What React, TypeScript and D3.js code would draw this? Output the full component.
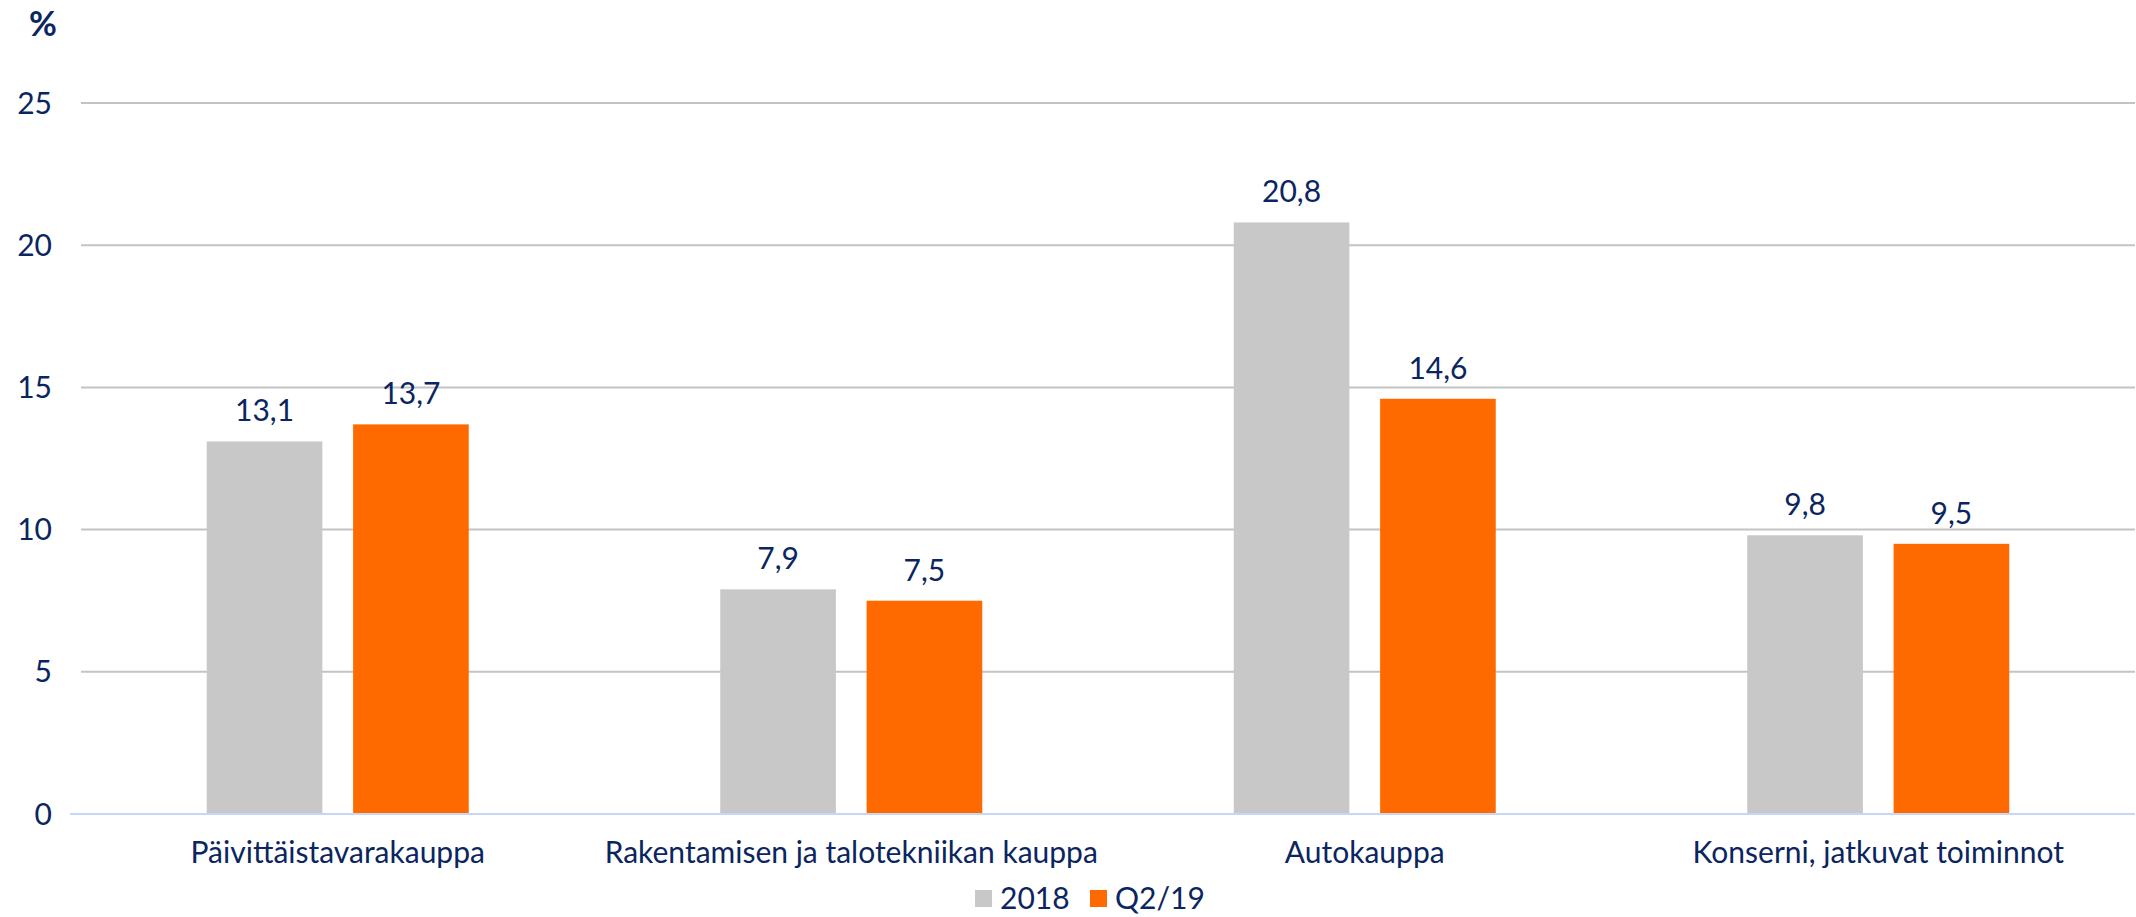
import React from 'react';
import * as d3 from 'd3';

const categories = ['Päivittäistavarakauppa', 'Rakentamisen ja talotekniikan kauppa', 'Autokauppa', 'Konserni, jatkuvat toiminnot'];
const series = ['2018', 'Q2/19'];
const values2018 = [13.1, 7.9, 20.8, 9.8];
const valuesQ2 = [13.7, 7.5, 14.6, 9.5];
const yTicks = [0, 5, 10, 15, 20, 25];

const W = 2136;
const H = 917;
const navy = '#0b2560';
const colors = ['#c8c8c8', '#ff6a00'];
const font = 'Lato, "Open Sans", sans-serif';

const App = () => {
    const left = 81;
    const right = 2135;
    const y = d3.scaleLinear().domain([0, 25]).range([814, 103]);
    const x = d3.scaleBand().domain(categories).range([left, right]);
    const inner = d3.scaleBand().domain(series).range([-131, 131]).paddingInner(0.21);
    const fmt = (v: number) => d3.format('.1f')(v).replace('.', ',');
    const data = [values2018, valuesQ2];

    return (
        <svg width={W} height={H} style={{ position: 'absolute', left: 0, top: 0, background: '#fff' }}>
            <text x={29} y={36} fill={navy} fontFamily={font} fontWeight={700} fontSize={34}>%</text>
            {yTicks.map(t => (
                <g key={t}>
                    {t > 0 && <line x1={left} x2={right} y1={y(t)} y2={y(t)} stroke="#c3c3c3" strokeWidth={2} />}
                    <text x={52} y={y(t)} dy="0.35em" textAnchor="end" fill={navy} fontFamily={font} fontSize={30}>{t}</text>
                </g>
            ))}
            {categories.map((c, i) => {
                const cx = x(c)! + x.bandwidth() / 2;
                return (
                    <g key={c}>
                        {series.map((s, j) => {
                            const v = data[j][i];
                            const bx = cx + inner(s)!;
                            return (
                                <g key={s}>
                                    <rect x={bx} y={y(v)} width={inner.bandwidth()} height={y(0) - y(v)} fill={colors[j]} />
                                    <text x={bx + inner.bandwidth() / 2} y={y(v) - 20} textAnchor="middle" fill={navy} fontFamily={font} fontSize={30}>{fmt(v)}</text>
                                </g>
                            );
                        })}
                        <text x={cx} y={863} textAnchor="middle" fill={navy} fontFamily={font} fontSize={30}>{c}</text>
                    </g>
                );
            })}
            <line x1={70} x2={right} y1={y(0)} y2={y(0)} stroke="#c5d6f7" strokeWidth={2} />
            <g fontFamily={font} fontSize={30} fill={navy}>
                <rect x={975} y={890} width={17} height={17} fill={colors[0]} />
                <text x={1000} y={909}>{series[0]}</text>
                <rect x={1090} y={890} width={17} height={17} fill={colors[1]} />
                <text x={1115} y={909}>{series[1]}</text>
            </g>
        </svg>
    );
};

export default App;
